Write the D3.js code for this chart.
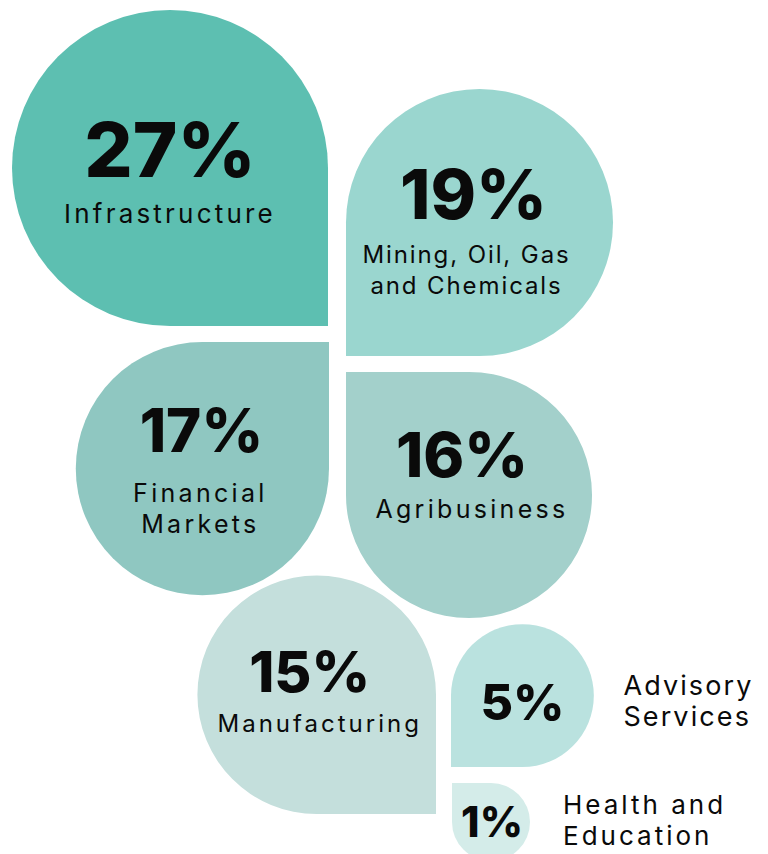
<!DOCTYPE html>
<html>
<head>
<meta charset="utf-8">
<script src="https://cdn.jsdelivr.net/npm/d3@7"></script>
<style>
  body { margin: 0; background: #fff; }
  .pct { font-family: Inter, "DejaVu Sans", sans-serif; font-weight: 800; fill: #0a0a0a; }
  .lbl { font-family: Inter, "DejaVu Sans", sans-serif; font-weight: 400; fill: #0a0a0a; }
</style>
</head>
<body>
<svg id="petals"></svg>
<script>
const width = 768,
  height = 854;

// data
const sectors = [
  "Infrastructure",
  "Mining, Oil, Gas and Chemicals",
  "Financial Markets",
  "Agribusiness",
  "Manufacturing",
  "Advisory Services",
  "Health and Education",
];
const shares = [27, 19, 17, 16, 15, 5, 1];
const labelLines = [
  ["Infrastructure"],
  ["Mining, Oil, Gas", "and Chemicals"],
  ["Financial", "Markets"],
  ["Agribusiness"],
  ["Manufacturing"],
  ["Advisory", "Services"],
  ["Health and", "Education"],
];

// layout: square corner of each petal + text placement relative to the circle centre
const layout = [
  { corner: "br", px: 328, py: 326, fill: "#5dbfb1", pctSize: 76, pdx: 0, pdy: 9, lblSize: 26, ls: 3.2, ldx: 0, ldy: 55 },
  { corner: "bl", px: 346, py: 356, fill: "#9ad6cf", pctSize: 69, pdx: -6, pdy: -3, lblSize: 24, ls: 1.9, ldx: -13, ldy: 41 },
  { corner: "tr", px: 329, py: 342, fill: "#8fc7c1", pctSize: 60, pdx: -1, pdy: -17, lblSize: 25, ls: 3.3, ldx: -2, ldy: 33 },
  { corner: "tl", px: 346, py: 372, fill: "#a3d0cb", pctSize: 62, pdx: -7, pdy: -18, lblSize: 25, ls: 3.3, ldx: 3, ldy: 23 },
  { corner: "br", px: 436, py: 814, fill: "#c4dfdc", pctSize: 57, pdx: -7, pdy: -3, lblSize: 24, ls: 3, ldx: 3, ldy: 37 },
  { corner: "bl", px: 451, py: 767, fill: "#bae2df", pctSize: 50, pdx: 0, pdy: 24, lblSize: 27, ls: 2.1, ldx: 101, ldy: -1, outside: true },
  { corner: "tl", px: 452, py: 783, fill: "#d4ece9", pctSize: 42, pdx: 1, pdy: 15, lblSize: 26, ls: 3, ldx: 72, ldy: -8, outside: true },
];
const lineHeight = 31;
const minRadius = 39;

const r = d3
  .scaleSqrt()
  .domain([0, d3.max(shares)])
  .range([6, 158]);

const svg = d3.select("#petals").attr("width", width).attr("height", height);

const items = shares.map((v, i) => {
  const L = layout[i];
  const rad = Math.max(minRadius, r(v));
  const sx = L.corner[1] === "r" ? 1 : -1;
  const sy = L.corner[0] === "b" ? 1 : -1;
  return {
    sector: sectors[i],
    value: v,
    lines: labelLines[i],
    L: L,
    r: rad,
    cx: L.px - sx * rad,
    cy: L.py - sy * rad,
    cornerAngle: Math.atan2(sy, sx),
  };
});

function petalPath(d) {
  const p = d3.path();
  const a0 = d.cornerAngle + Math.PI / 4;
  p.moveTo(d.L.px, d.L.py);
  p.lineTo(d.cx + d.r * Math.cos(a0), d.cy + d.r * Math.sin(a0));
  p.arc(d.cx, d.cy, d.r, a0, a0 + 1.5 * Math.PI);
  p.closePath();
  return p.toString();
}

const g = svg
  .selectAll(".petal")
  .data(items)
  .enter()
  .append("g")
  .attr("class", "petal");

g.append("path")
  .attr("d", petalPath)
  .attr("fill", (d) => d.L.fill);

g.append("text")
  .attr("class", "pct")
  .attr("x", (d) => d.cx + d.L.pdx)
  .attr("y", (d) => d.cy + d.L.pdy)
  .attr("text-anchor", "middle")
  .style("font-size", (d) => d.L.pctSize + "px")
  .text((d) => d.value + "%");

g.each(function (d) {
  const t = d3
    .select(this)
    .append("text")
    .attr("class", "lbl")
    .attr("text-anchor", d.L.outside ? "start" : "middle")
    .style("font-size", d.L.lblSize + "px")
    .style("letter-spacing", d.L.ls + "px");
  d.lines.forEach((line, j) => {
    t.append("tspan")
      .attr("x", d.cx + d.L.ldx)
      .attr("y", d.cy + d.L.ldy + j * lineHeight)
      .text(line);
  });
});
</script>
</body>
</html>
